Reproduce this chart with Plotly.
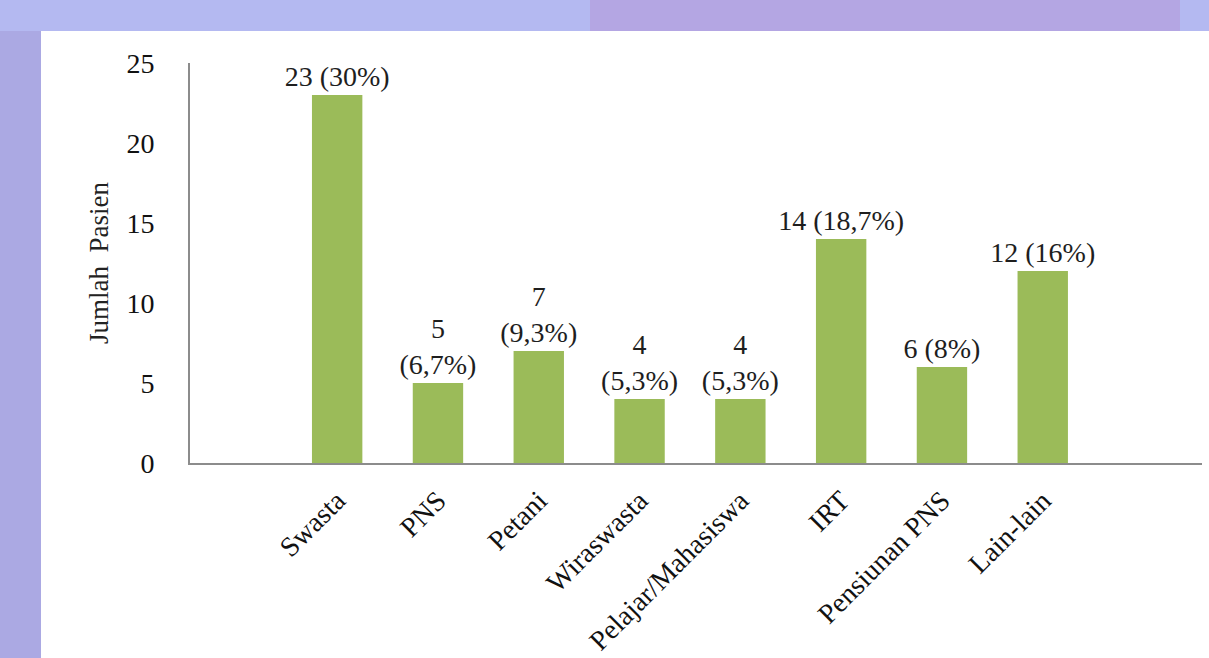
import plotly.graph_objects as go

categories = ["Swasta", "PNS", "Petani", "Wiraswasta", "Pelajar/Mahasiswa", "IRT", "Pensiunan PNS", "Lain-lain"]
counts = [23, 5, 7, 4, 4, 14, 6, 12]
labels = ["23 (30%)", "5<br>(6,7%)", "7<br>(9,3%)", "4<br>(5,3%)", "4<br>(5,3%)", "14 (18,7%)", "6 (8%)", "12 (16%)"]
y_ticks = [0, 5, 10, 15, 20, 25]

W, H = 1209, 658
L, R, T, B = 190, 7, 63, 195
pw, ph = W - L - R, H - T - B
SERIF = "Liberation Serif, Times New Roman, serif"

def px_x(p):
    return (p - L) / pw

def px_y(p):
    return (H - B - p) / ph

fig = go.Figure(go.Bar(
    x=list(range(len(categories))),
    y=counts,
    text=labels,
    textposition="outside",
    textfont=dict(family=SERIF, size=28, color="#1e1e1e"),
    constraintext="none",
    cliponaxis=False,
    marker=dict(color="#9bbb59", line=dict(width=0)),
    width=0.5,
))

def rect(x0, x1, y0, y1, color):
    return dict(type="rect", xref="paper", yref="paper",
                x0=px_x(x0), x1=px_x(x1), y0=px_y(y1), y1=px_y(y0),
                fillcolor=color, line=dict(width=0), layer="below")

shapes = [
    rect(0, 590, 0, 31, "#b4b9f1"),
    rect(590, 1180, 0, 31, "#b4a6e3"),
    rect(1180, 1209, 0, 31, "#b4b9f1"),
    rect(41, 1209, 31, 658, "white"),
]

fig.update_layout(
    width=W, height=H,
    margin=dict(l=L, r=R, t=T, b=B, autoexpand=False),
    paper_bgcolor="#aba9e3",
    plot_bgcolor="rgba(0,0,0,0)",
    showlegend=False,
    shapes=shapes,
    font=dict(family=SERIF, color="#111111"),
    xaxis=dict(
        range=[-1.46, 8.58],
        tickmode="array",
        tickvals=list(range(len(categories))),
        ticktext=categories,
        tickangle=-45,
        tickfont=dict(family=SERIF, size=28, color="#111111"),
        showline=True, linecolor="#8c8c8c", linewidth=2,
        showgrid=False, zeroline=False, ticks="",
        ticklabelstandoff=8,
        automargin=False,
    ),
    yaxis=dict(
        range=[0, 25],
        tickvals=y_ticks,
        tickfont=dict(family=SERIF, size=28, color="#111111"),
        showline=True, linecolor="#8c8c8c", linewidth=2,
        showgrid=False, zeroline=False, ticks="",
        ticklabelstandoff=28,
        automargin=False,
        title=dict(text="Jumlah  Pasien", font=dict(family=SERIF, size=27, color="#222222"), standoff=10),
    ),
)

fig.write_html("out.html")
